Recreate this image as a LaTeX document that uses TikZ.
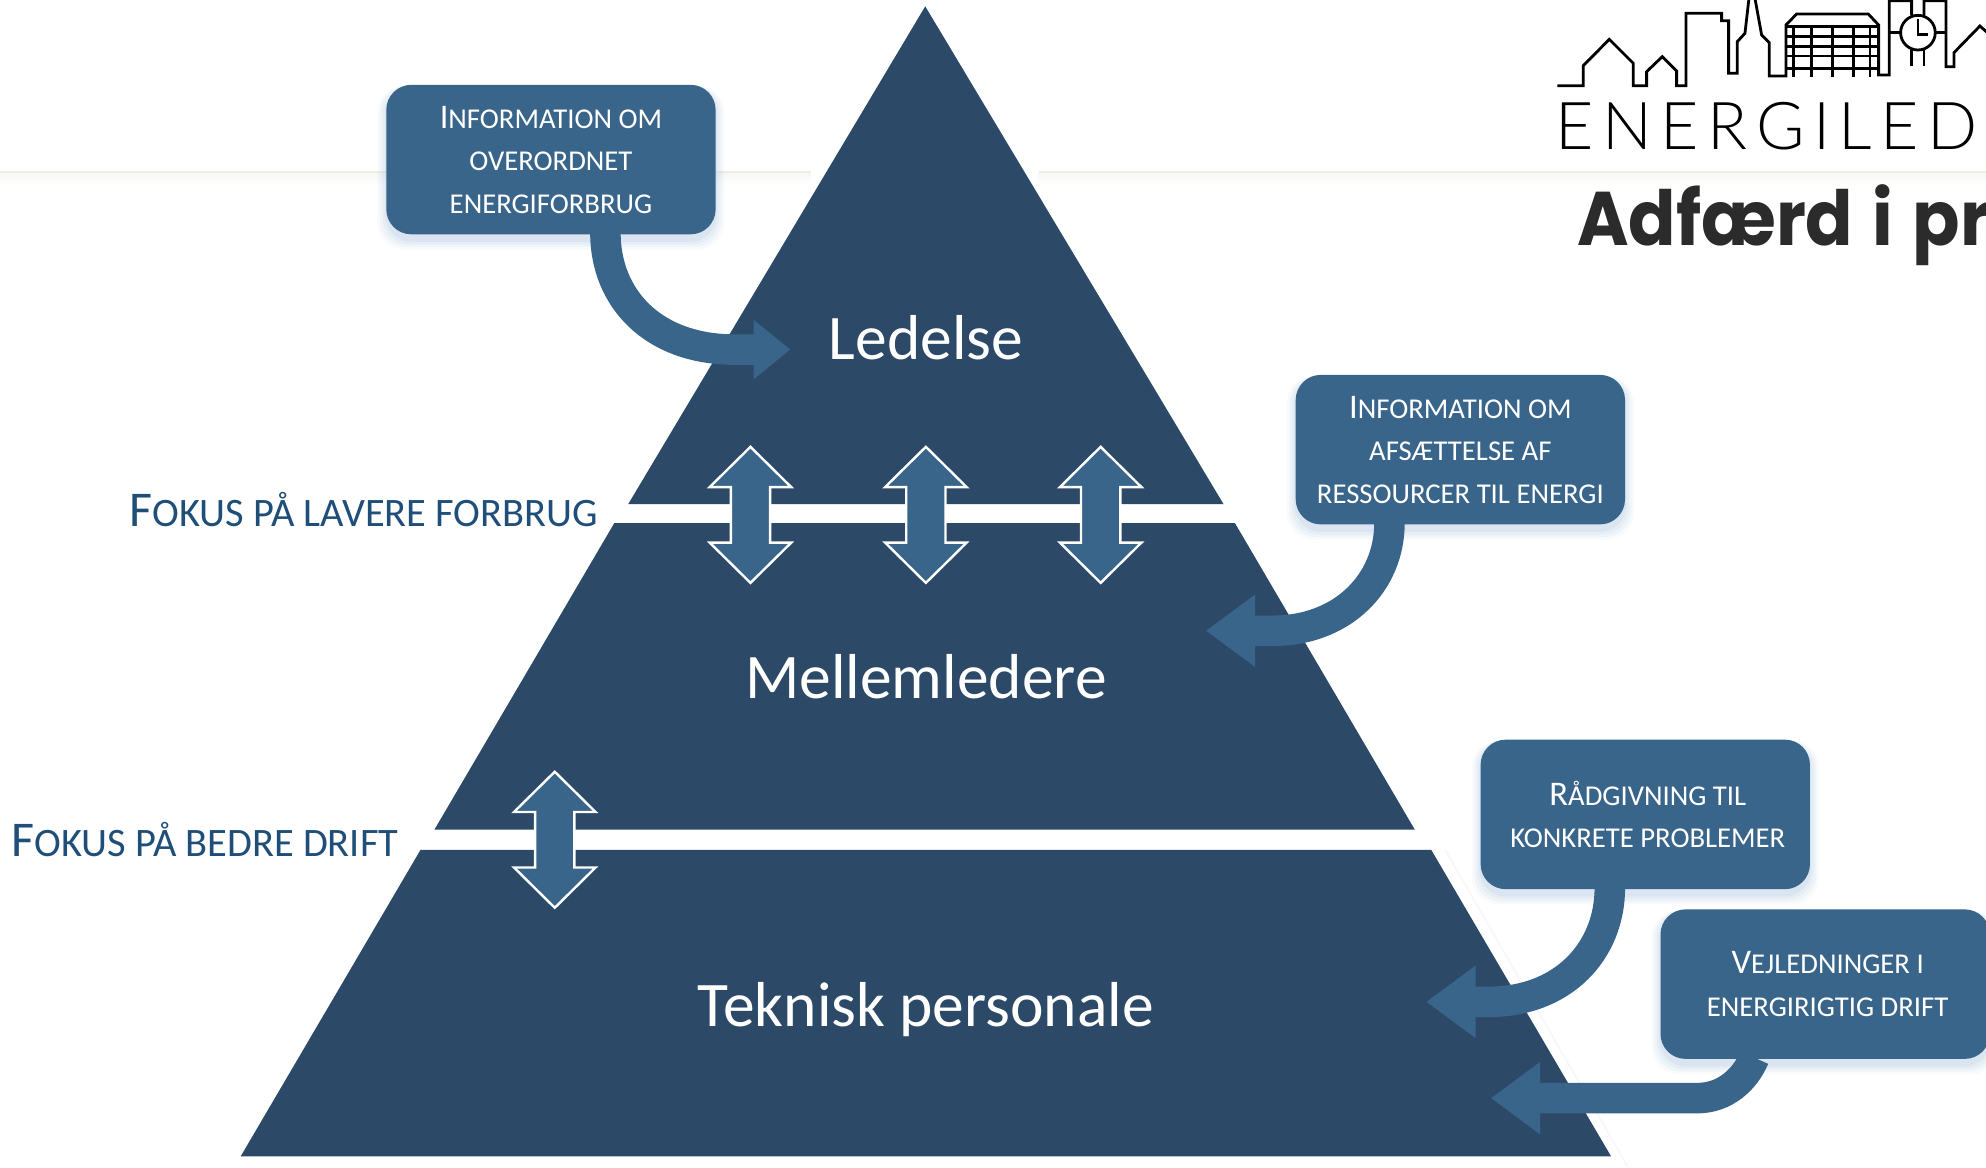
\documentclass[tikz,border=0pt]{standalone}
\usepackage{fontspec}
\setmainfont{Carlito}
\newfontfamily\logofont[LetterSpace=13,UprightFont={* Light}]{Lato}
\newfontfamily\headfont[FakeStretch=0.92]{Poppins}
\usetikzlibrary{arrows.meta}
\definecolor{pyr}{HTML}{2C4A68}
\definecolor{boxc}{HTML}{3A658B}
\definecolor{lab}{HTML}{1F4E79}
\definecolor{rulec}{HTML}{EFECE6}
\definecolor{shad}{HTML}{8FB2D9}
\tikzset{
  level/.style={fill=pyr,draw=none},
  levellabel/.style={text=white,font=\fontsize{63.5}{66}\selectfont,inner sep=0pt},
  infobox/.style={fill=boxc,draw=none,rounded corners=25pt,minimum width=329.3pt,minimum height=149.5pt,inner sep=0pt,outer sep=0pt,text=white,align=center,font=\fontsize{28.7}{42.5}\selectfont},
  fatarrow/.style={draw=boxc,line width=30.5pt},
  bighead/.style={-{Triangle[length=49.4pt,width=69pt]}},
  smallhead/.style={-{Triangle[length=36.7pt,width=57pt]}},
  updown/.style={fill=boxc,draw=white,line width=2.4pt,line join=miter},
  focus/.style={text=lab,inner sep=0pt},
  skyline/.style={draw=black,line width=2.8pt,line join=miter}
}
% small capitals set by hand: #1 in the large size, #2 in the small size
\newcommand{\capbox}[2]{{\fontsize{34.5}{42.5}\selectfont #1}#2}
\newcommand{\capside}[2]{{\fontsize{50}{54}\selectfont #1}{\fontsize{40.4}{54}\selectfont #2}}
\newcommand{\softshade}[4]{%
  \foreach \g/\o in {7/.06,5/.08,3/.10,1/.12}{%
    \fill[shad,opacity=\o,rounded corners=27pt] (#1-\g,#2+1) rectangle (#3+\g,#4+5+\g);}}
\newcommand{\updn}[2]{%
  \draw[updown] (#1,#2-53.7) -- (#1+32.2,#2-21.9) -- (#1+15.5,#2-21.9) -- (#1+15.5,#2+21.9) -- (#1+32.2,#2+21.9) -- (#1,#2+53.7) -- (#1-32.2,#2+21.9) -- (#1-15.5,#2+21.9) -- (#1-15.5,#2-21.9) -- (#1-32.2,#2-21.9) -- cycle;}
\begin{document}
\begin{tikzpicture}[x=1.26658pt,y=-1.26658pt]
\useasboundingbox (0,0) rectangle (1568,921.4);
\fill[white] (0,0) rectangle (1568,921.4);
% horizontal rule
\shade[top color=rulec!45,bottom color=white,draw=none] (0,136) rectangle (640,146);
\shade[top color=rulec!45,bottom color=white,draw=none] (820,136) rectangle (1568,146);
\fill[rulec] (0,135.2) rectangle (640,136.6);
\fill[rulec] (820,135.2) rectangle (1568,136.6);
% pyramid
\fill[level] (730.5,5) -- (966,398) -- (496,398) -- cycle;
\fill[level] (485,413) -- (975,413) -- (1117,655) -- (343,655) -- cycle;
\fill[level] (332,671) -- (1130,671) -- (1272,913) -- (190,913) -- cycle;
\draw[line width=1.5pt,color=black!3] (1141,671) -- (1285,921);
\node[levellabel] (ledelse) at (731,267) {Ledelse};
\node[levellabel] (mellem) at (731,534) {Mellemledere};
\node[levellabel] (teknisk) at (731,797) {Teknisk personale};
% side labels
\node[focus,anchor=base west] (lavere) at (102,416) {\capside{F}{OKUS PÅ LAVERE FORBRUG}};
\node[focus,anchor=base west] (bedre) at (9,676) {\capside{F}{OKUS PÅ BEDRE DRIFT}};
% double arrows
\updn{592.5}{406.5}
\updn{731}{406.5}
\updn{869}{406.5}
\updn{438}{663}
% boxes
\softshade{305}{67}{565}{185}
\softshade{1023}{296}{1283}{414}
\softshade{1169}{584}{1429}{702}
\softshade{1311}{718}{1571}{836}
\node[infobox] (b1) at (435,126) {\capbox{I}{NFORMATION OM}\\OVERORDNET\\ENERGIFORBRUG};
\node[infobox] (b2) at (1153,355) {\capbox{I}{NFORMATION OM}\\AFSÆTTELSE AF\\RESSOURCER TIL ENERGI};
\node[infobox] (b3) at (1299,643) {\hspace*{5pt}\capbox{R}{ÅDGIVNING TIL}\\\hspace*{5pt}KONKRETE PROBLEMER};
\node[infobox] (b4) at (1441,777) {\hspace*{5pt}\capbox{V}{EJLEDNINGER I}\\\hspace*{5pt}ENERGIRIGTIG DRIFT};
% connectors
\coordinate (t1) at (624,276);
\coordinate (t2) at (952,498);
\coordinate (t3) at (1126,791);
\coordinate (t4) at (1177,867);
\draw[fatarrow,smallhead] (b1.south) ++(43,-1) .. controls (478,235) and (515,276) .. (580,276) -- (t1);
\draw[fatarrow,bighead] (b2.south) ++(-56,-1) .. controls (1097,460) and (1060,498) .. (1005,498) -- (t2);
\draw[fatarrow,bighead] (b3.south) ++(-28,-1) .. controls (1271,750) and (1235,791) .. (1175,791) -- (t3);
\draw[fatarrow,bighead] (b4.south) ++(-56,-1) .. controls (1378,852) and (1362,867) .. (1340,867) -- (t4);
% logo
\begin{scope}
\clip (0,0) rectangle (1568,921.4);
\begin{scope}[shift={(1184.27,0)},x=0.3333pt,y=-0.3333pt]
\draw[skyline] (172,257) -- (250,257) -- (250,197) -- (328,118) -- (400,190) -- (400,257) -- (440,257) -- (440,215) -- (487,170) -- (530,213) -- (530,257) -- (558,257) -- (558,40) -- (665,40) -- (665,62) -- (686,62) -- (686,220) -- (712,220) -- (712,125) -- (735,100) -- (747,-5);
\draw[skyline] (765,-5) -- (785,105) -- (808,128) -- (808,228) -- (858,228) -- (858,75) -- (890,42) -- (1105,42) -- (1136,75) -- (1136,225) -- (1168,225) -- (1168,2) -- (1235,2) -- (1235,46);
\draw[skyline] (1272,46) -- (1272,2) -- (1338,2) -- (1338,200) -- (1362,200) -- (1362,158) -- (1440,78) -- (1520,150);
\foreach \yy in {80,110,140,168,205} \draw[skyline] (858,\yy) -- (1136,\yy);
\foreach \xx in {880,935,997,1060,1110} \draw[skyline] (\xx,78) -- (\xx,232);
\draw[skyline] (1254,98) circle[radius=52];
\draw[skyline] (1168,98) -- (1202,98) (1306,98) -- (1338,98);
\draw[skyline] (1235,150) -- (1235,198) (1272,150) -- (1272,198);
\draw[skyline] (1254,58) -- (1254,103) -- (1285,103);
\end{scope}
\end{scope}
\node[anchor=base west,inner sep=0pt,font=\logofont\fontsize{66}{70}\selectfont,text=black] (logotext) at (1228,118) {ENERGILED};
\node[anchor=base west,inner sep=0pt,font=\headfont\bfseries\fontsize{76}{80}\selectfont,text=black!83] (head) at (1245,194) {Adfærd\hspace{4pt} i\hspace{5pt} pr};
\end{tikzpicture}
\end{document}
